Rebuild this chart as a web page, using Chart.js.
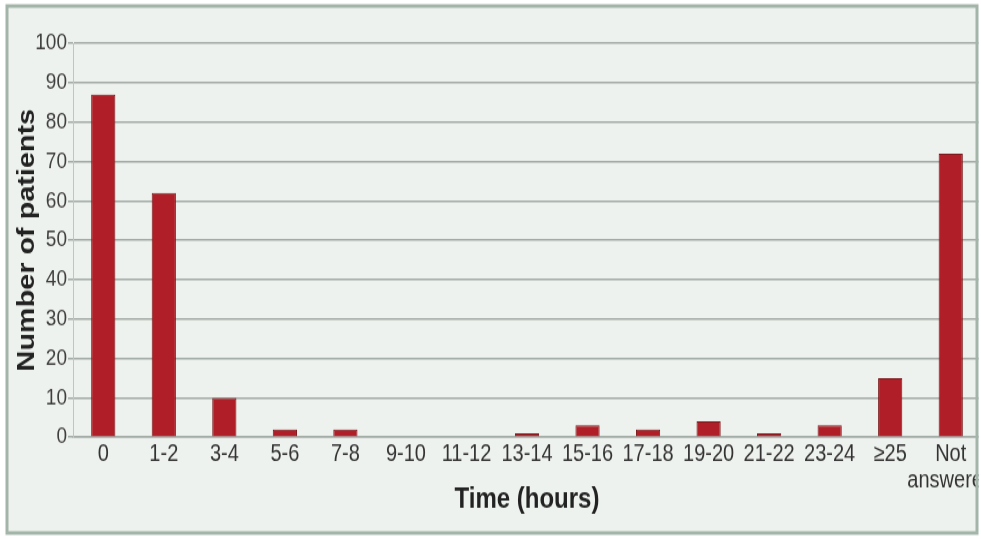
<!DOCTYPE html>
<html>
<head>
<meta charset="utf-8">
<script src="https://cdn.jsdelivr.net/npm/chart.js@4"></script>
<style>
  html, body { margin: 0; padding: 0; background: #ffffff; }
  body { width: 981px; height: 539px; position: relative; }
  /* the source picture is stretched vertically, so the chart is too */
  #wrap { position: absolute; left: 0; top: 0; width: 981px; height: 449px;
          transform: scale(1, 1.2004); transform-origin: 0 0; }
</style>
</head>
<body>
<div id="wrap"><canvas id="chart"></canvas></div>
<script>
const categories = ['0', '1-2', '3-4', '5-6', '7-8', '9-10', '11-12', '13-14', '15-16',
  '17-18', '19-20', '21-22', '23-24', '\u226525', ['Not', 'answered']];
const patients = [87, 62, 10, 2, 2, 0, 0, 1, 3, 2, 4, 1, 3, 15, 72];
const yTicks = { min: 0, max: 100, step: 10 };

const fontFamily = '"Liberation Sans", Arial, sans-serif';

// light panel with a grey-green frame round it
const framePlugin = {
  id: 'frame',
  beforeDraw(chart) {
    const ctx = chart.ctx;
    ctx.save();
    ctx.fillStyle = '#ffffff';
    ctx.fillRect(0, 0, chart.width, chart.height);
    ctx.fillStyle = '#eef2ee';
    ctx.fillRect(7, 5, 970, 439);
    ctx.restore();
  },
  afterDraw(chart) {
    const ctx = chart.ctx;
    ctx.save();
    ctx.fillStyle = '#ffffff';
    ctx.fillRect(978.5, 0, chart.width - 978.5, chart.height);
    ctx.strokeStyle = '#a3b4a9';
    ctx.lineWidth = 3;
    ctx.strokeRect(7, 5, 970, 439);
    ctx.restore();
  }
};

new Chart(document.getElementById('chart'), {
  type: 'bar',
  data: {
    labels: categories,
    datasets: [{
      label: 'Number of patients',
      data: patients,
      backgroundColor: '#b01f28',
      borderColor: '#7a171b',
      borderWidth: 1,
      barPercentage: 0.4,
      categoryPercentage: 1.0
    }]
  },
  options: {
    responsive: true,
    maintainAspectRatio: false,
    animation: false,
    layout: { padding: { left: 8, top: 36, right: 0, bottom: 0 } },
    plugins: {
      legend: { display: false },
      tooltip: { enabled: false }
    },
    scales: {
      x: {
        grid: { display: false, drawTicks: false },
        border: { display: true, color: '#a3aba6', width: 1.5 },
        ticks: {
          color: '#333333',
          padding: 3,
          maxRotation: 0,
          autoSkip: false,
          font: { family: fontFamily, size: 20, lineHeight: 1.1 }
        },
        title: {
          display: true,
          text: 'Time (hours)',
          color: '#222222',
          padding: { top: 0, bottom: 18 },
          font: { family: fontFamily, size: 24, weight: 'bold' }
        },
        afterFit(scale) {
          scale.height = 84.8;
          scale.paddingRight = 0;
        }
      },
      y: {
        min: yTicks.min,
        max: yTicks.max,
        grid: { color: '#a3aba6', lineWidth: 1.5, tickLength: 5 },
        border: { display: true, color: '#cdbfbf', width: 1 },
        ticks: {
          stepSize: yTicks.step,
          color: '#3f3f3f',
          padding: 1,
          font: { family: fontFamily, size: 19 }
        },
        title: {
          display: true,
          text: 'Number of patients',
          color: '#222222',
          padding: { top: 4.6, bottom: 0 },
          font: { family: fontFamily, size: 24, weight: 'bold' }
        },
        afterFit(scale) {
          scale.width = 65;
        }
      }
    }
  },
  plugins: [framePlugin]
});
</script>
</body>
</html>
